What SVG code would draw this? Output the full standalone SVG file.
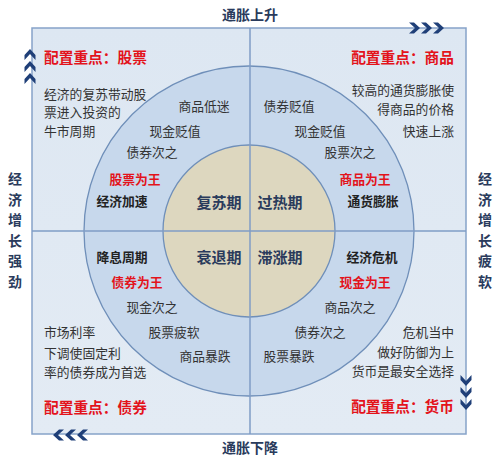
<svg xmlns="http://www.w3.org/2000/svg" xmlns:xlink="http://www.w3.org/1999/xlink" width="500" height="462" viewBox="0 0 500 462">
<defs>
<style>
text{font-family:"Noto Sans CJK SC","Noto Sans",sans-serif;}
.t{font-size:12.8px;fill:#333;}
.b{font-size:12.8px;fill:#222;font-weight:bold;}
.r{font-size:12.8px;fill:#e3131b;font-weight:bold;}
.h{font-size:14.7px;fill:#e3131b;font-weight:bold;}
.p{font-size:15px;fill:#2a3b5c;font-weight:bold;}
.ax{font-size:14px;fill:#2a3b5c;font-weight:bold;}
.end{text-anchor:end;}
.chev{fill:#1f3f78;}
</style>
<linearGradient id="bg" x1="0" y1="0" x2="0" y2="1">
<stop offset="0" stop-color="#dde7f2"/>
<stop offset="1" stop-color="#e3ebf4"/>
</linearGradient>
<path id="chevR" d="M-5,-5.5 L0,-5.5 L6,0 L0,5.5 L-5,5.5 L1,0 Z"/>
</defs>
<rect width="500" height="462" fill="#ffffff"/>
<g id="frame">
<rect x="32" y="28" width="434" height="406" fill="url(#bg)" stroke="#86a3c9" stroke-width="1.5"/>
<circle cx="249" cy="231" r="165" fill="#c7d8ec" stroke="#6f8fb9" stroke-width="1.3"/>
<circle cx="249" cy="231" r="86" fill="#ddd7bf" stroke="#6f8fb9" stroke-width="1.3"/>
</g>
<g id="connectors" stroke="#7f9dc6" stroke-width="1.5">
<line x1="32" y1="231" x2="466" y2="231"/>
<line x1="250" y1="28" x2="250" y2="434"/>
</g>
<g id="arrows" class="chev">
<use xlink:href="#chevR" transform="translate(30,55) rotate(-90)"/>
<use xlink:href="#chevR" transform="translate(30,67) rotate(-90)"/>
<use xlink:href="#chevR" transform="translate(30,79) rotate(-90)"/>
<use xlink:href="#chevR" transform="translate(414,28)"/>
<use xlink:href="#chevR" transform="translate(426,28)"/>
<use xlink:href="#chevR" transform="translate(438,28)"/>
<use xlink:href="#chevR" transform="translate(466,380) rotate(90)"/>
<use xlink:href="#chevR" transform="translate(466,392) rotate(90)"/>
<use xlink:href="#chevR" transform="translate(466,404) rotate(90)"/>
<use xlink:href="#chevR" transform="translate(59,435) rotate(180)"/>
<use xlink:href="#chevR" transform="translate(71,435) rotate(180)"/>
<use xlink:href="#chevR" transform="translate(83,435) rotate(180)"/>
</g>
<g id="axis-labels">
<text class="ax" x="250" y="20" text-anchor="middle">通胀上升</text>
<text class="ax" x="250" y="453" text-anchor="middle">通胀下降</text>
<text class="ax" x="15" y="184" text-anchor="middle"><tspan x="15">经</tspan><tspan x="15" dy="20.5">济</tspan><tspan x="15" dy="20.5">增</tspan><tspan x="15" dy="20.5">长</tspan><tspan x="15" dy="20.5">强</tspan><tspan x="15" dy="20.5">劲</tspan></text>
<text class="ax" x="485" y="184" text-anchor="middle"><tspan x="485">经</tspan><tspan x="485" dy="20.5">济</tspan><tspan x="485" dy="20.5">增</tspan><tspan x="485" dy="20.5">长</tspan><tspan x="485" dy="20.5">疲</tspan><tspan x="485" dy="20.5">软</tspan></text>
</g>
<g id="phases">
<text class="p" x="219" y="208" text-anchor="middle">复苏期</text>
<text class="p" x="280" y="208" text-anchor="middle">过热期</text>
<text class="p" x="219" y="263" text-anchor="middle">衰退期</text>
<text class="p" x="280" y="263" text-anchor="middle">滞涨期</text>
</g>
<g id="q-top-left">
<text class="h" x="44" y="63">配置重点：股票</text>
<text class="t" x="44" y="99">经济的复苏带动股</text>
<text class="t" x="44" y="117">票进入投资的</text>
<text class="t" x="44" y="136">牛市周期</text>
<text class="t" x="204" y="111" text-anchor="middle">商品低迷</text>
<text class="t" x="175" y="136" text-anchor="middle">现金贬值</text>
<text class="t" x="152" y="157" text-anchor="middle">债券次之</text>
<text class="r" x="135" y="184" text-anchor="middle">股票为王</text>
<text class="b" x="122" y="206" text-anchor="middle">经济加速</text>
</g>
<g id="q-top-right">
<text class="h end" x="454" y="63">配置重点：商品</text>
<text class="t end" x="454" y="95">较高的通货膨胀使</text>
<text class="t end" x="454" y="114">得商品的价格</text>
<text class="t end" x="454" y="136">快速上涨</text>
<text class="t" x="289" y="111" text-anchor="middle">债券贬值</text>
<text class="t" x="320" y="136" text-anchor="middle">现金贬值</text>
<text class="t" x="350" y="157" text-anchor="middle">股票次之</text>
<text class="r" x="365" y="184" text-anchor="middle">商品为王</text>
<text class="b" x="373" y="206" text-anchor="middle">通货膨胀</text>
</g>
<g id="q-bottom-left">
<text class="b" x="122" y="262" text-anchor="middle">降息周期</text>
<text class="r" x="137" y="287" text-anchor="middle">债券为王</text>
<text class="t" x="152" y="312" text-anchor="middle">现金次之</text>
<text class="t" x="174" y="337" text-anchor="middle">股票疲软</text>
<text class="t" x="44" y="337">市场利率</text>
<text class="t" x="44" y="358">下调使固定利</text>
<text class="t" x="44" y="377">率的债券成为首选</text>
<text class="t" x="205" y="361" text-anchor="middle">商品暴跌</text>
<text class="h" x="44" y="413">配置重点：债券</text>
</g>
<g id="q-bottom-right">
<text class="b" x="372" y="262" text-anchor="middle">经济危机</text>
<text class="r" x="365" y="287" text-anchor="middle">现金为王</text>
<text class="t" x="350" y="312" text-anchor="middle">商品次之</text>
<text class="t" x="320" y="337" text-anchor="middle">债券次之</text>
<text class="t end" x="454" y="337">危机当中</text>
<text class="t end" x="454" y="357">做好防御为上</text>
<text class="t end" x="454" y="376">货币是最安全选择</text>
<text class="t" x="289" y="361" text-anchor="middle">股票暴跌</text>
<text class="h end" x="454" y="412">配置重点：货币</text>
</g>
</svg>
